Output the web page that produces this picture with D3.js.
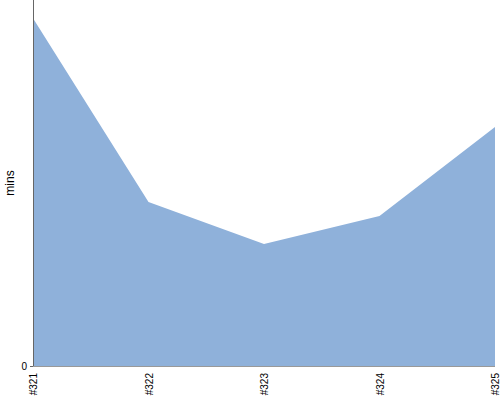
<!DOCTYPE html>
<html><head><meta charset="utf-8">
<script src="https://cdn.jsdelivr.net/npm/d3@7"></script>
<style>body{margin:0;background:#fff}svg{display:block;font-family:"Liberation Sans",Arial,sans-serif}</style>
</head><body>
<svg id="c" width="500" height="400"></svg>
<script>
const categories = ["#321", "#322", "#323", "#324", "#325"];
const values = [19.0, 8.96, 6.67, 8.2, 13.06];
const yTicks = [0];
const yLabel = "mins";

const svg = d3.select("#c");
const m = {left: 33, right: 5, top: 0, bottom: 34};
const W = 500, H = 400;
const x = d3.scalePoint().domain(categories).range([m.left, W - m.right]);
const y = d3.scaleLinear().domain([0, 20]).range([H - m.bottom, m.top]);

const area = d3.area().x((d, i) => x(categories[i])).y0(y(0)).y1(d => y(d));
svg.append("path").datum(values).attr("d", area).attr("fill", "#8fb1da");

// x axis
const gx = svg.append("g").attr("transform", `translate(0,${y(0)})`)
  .call(d3.axisBottom(x).tickSize(0).tickPadding(0));
gx.select(".domain").attr("stroke", "#999").attr("d", `M${m.left},0.5H${W - m.right}`);
gx.selectAll("text").attr("font-size", 10).attr("fill", "#000")
  .attr("transform", "rotate(-90)").attr("text-anchor", "end")
  .attr("x", -7).attr("y", 0).attr("dy", "0.35em");

// y axis
const gy = svg.append("g").attr("transform", `translate(${m.left},0)`)
  .call(d3.axisLeft(y).tickValues(yTicks).tickSize(3).tickPadding(3));
gy.select(".domain").attr("stroke", "#666").attr("d", `M0.5,${m.top}V${y(0)}`);
gy.selectAll(".tick line").attr("stroke", "#666");
gy.selectAll("text").attr("font-size", 10).attr("fill", "#000");

svg.append("text").attr("transform", `translate(14,${(y(0) + m.top) / 2}) rotate(-90)`)
  .attr("text-anchor", "middle").attr("font-size", 12).text(yLabel);
</script>
</body></html>
